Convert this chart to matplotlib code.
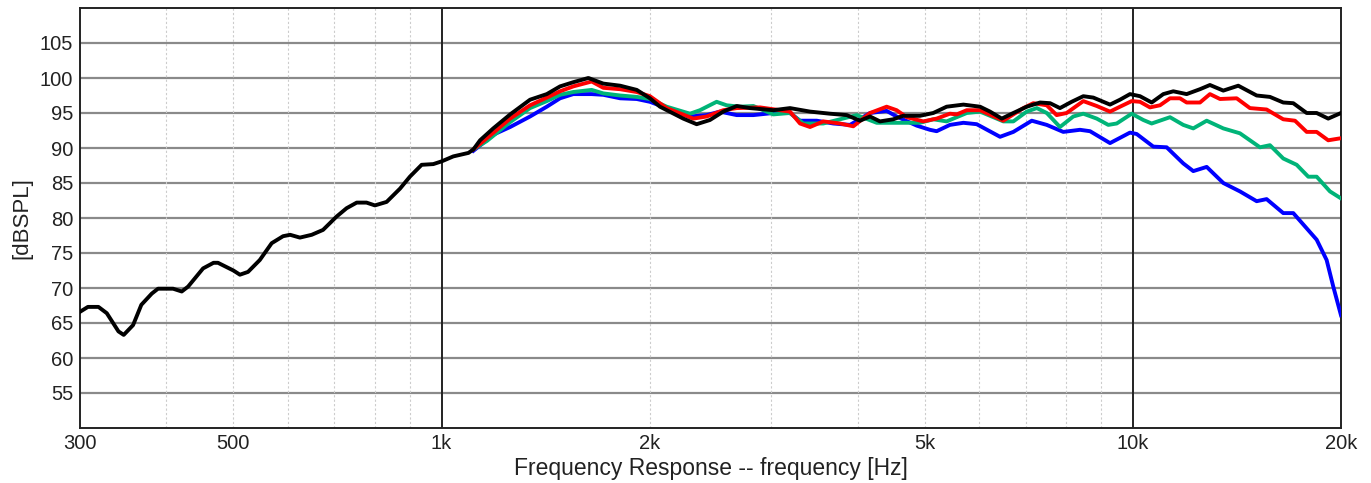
import numpy as np
import matplotlib
matplotlib.use("Agg")
import matplotlib.pyplot as plt
import matplotlib.ticker as plticker

plt.rcParams['font.family'] = ['Liberation Sans', 'DejaVu Sans']

# black curve (full range)
black_f = [300, 308, 319, 328, 341, 347, 358, 368, 381, 389, 409, 421, 430, 452, 468, 475,
           500, 511, 525, 546, 568, 590, 604, 624, 649, 674, 705, 729, 754, 779, 801, 833,
           871, 900, 936, 973, 1001, 1040, 1094, 1112, 1137, 1188, 1257, 1343, 1420, 1484,
           1551, 1631, 1714, 1813, 1916, 2002, 2070, 2237, 2339, 2445, 2556, 2673, 2794,
           3019, 3192, 3412, 3646, 3856, 4030, 4167, 4307, 4502, 4654, 4921, 5144, 5378,
           5687, 6011, 6214, 6462, 6716, 7022, 7341, 7590, 7844, 8155, 8478, 8766, 9267,
           9581, 9904, 10240, 10646, 11066, 11441, 11961, 12504, 12926, 13514, 14205,
           15102, 15785, 16501, 17061, 17840, 18443, 19167, 20000]
black_db = [66.6, 67.3, 67.3, 66.4, 63.8, 63.3, 64.7, 67.6, 69.2, 69.9, 69.9, 69.5, 70.2, 72.8, 73.6, 73.6,
            72.5, 71.9, 72.3, 74.0, 76.4, 77.4, 77.6, 77.2, 77.6, 78.3, 80.2, 81.4, 82.2, 82.2, 81.8, 82.3,
            84.2, 85.9, 87.6, 87.7, 88.1, 88.8, 89.3, 89.8, 91.1, 92.8, 94.8, 96.9, 97.7, 98.8,
            99.4, 100.0, 99.2, 98.9, 98.3, 97.1, 95.9, 94.2, 93.4, 94.0, 95.2, 96.0, 95.7,
            95.4, 95.7, 95.2, 94.9, 94.7, 93.9, 94.5, 93.8, 94.1, 94.6, 94.6, 95.0, 95.9,
            96.2, 95.9, 95.2, 94.2, 95.0, 95.9, 96.5, 96.4, 95.7, 96.6, 97.4, 97.2, 96.2,
            96.9, 97.7, 97.4, 96.5, 97.7, 98.1, 97.7, 98.4, 99.0, 98.2, 98.9,
            97.5, 97.3, 96.5, 96.4, 95.0, 95.0, 94.2, 95.0]

red_f = [1112, 1163, 1257, 1343, 1420, 1484, 1551, 1649, 1714, 1813, 1916, 2002, 2117, 2313,
         2418, 2556, 2673, 2889, 3087, 3192, 3300, 3412, 3566, 3770, 3941, 4167, 4404, 4553,
         4708, 4976, 5202, 5437, 5563, 5751, 6011, 6496, 6943, 7178, 7507, 7758, 8021, 8478,
         8866, 9267, 9581, 9961, 10240, 10585, 10944, 11316, 11697, 11961, 12504, 12926,
         13366, 14130, 14768, 15611, 16501, 17159, 17840, 18443, 19167, 20000]
red_db = [89.8, 91.4, 94.2, 96.1, 97.2, 98.1, 98.8, 99.5, 98.6, 98.4, 98.0, 97.4, 95.7, 94.2,
          94.5, 95.4, 95.7, 95.8, 95.4, 95.2, 93.5, 93.0, 93.8, 93.5, 93.1, 95.0, 95.9, 95.4,
          94.4, 93.8, 94.2, 94.9, 94.8, 95.4, 95.4, 93.9, 95.7, 96.4, 96.1, 94.7, 95.0, 96.7,
          96.0, 95.2, 95.9, 96.7, 96.6, 95.8, 96.1, 97.1, 97.1, 96.5, 96.5, 97.7,
          97.0, 97.1, 95.7, 95.5, 94.1, 93.9, 92.3, 92.3, 91.1, 91.4]

green_f = [1112, 1163, 1257, 1343, 1420, 1484, 1551, 1649, 1714, 1813, 1916, 2002, 2117, 2288,
           2365, 2500, 2585, 2702, 2825, 3019, 3192, 3337, 3566, 3770, 3986, 4261, 4603, 4921,
           5144, 5378, 5751, 6011, 6496, 6716, 7022, 7262, 7507, 7844, 8199, 8478, 8866, 9213,
           9476, 9961, 10354, 10646, 11316, 11827, 12228, 12787, 13514, 14284, 15270, 15785,
           16501, 17255, 17935, 18443, 19277, 20000]
green_db = [89.8, 91.0, 93.7, 95.7, 96.7, 97.6, 98.0, 98.3, 97.8, 97.5, 97.3, 97.0, 95.9, 94.9,
            95.4, 96.6, 96.1, 95.9, 96.0, 94.8, 95.0, 93.5, 93.5, 94.1, 94.7, 93.6, 93.6, 93.6,
            94.1, 93.8, 95.0, 95.2, 93.8, 93.8, 95.2, 95.7, 95.0, 93.0, 94.5, 94.9, 94.2, 93.3,
            93.5, 94.9, 94.0, 93.5, 94.4, 93.3, 92.8, 93.9, 92.8, 92.1, 90.1, 90.4,
            88.5, 87.6, 85.9, 85.9, 83.8, 82.8]

blue_f = [1112, 1188, 1257, 1343, 1420, 1484, 1551, 1649, 1714, 1813, 1916, 2002, 2117, 2288,
          2418, 2528, 2673, 2825, 3019, 3192, 3300, 3489, 3687, 3898, 4167, 4404, 4553, 4867,
          5087, 5202, 5437, 5687, 5945, 6425, 6716, 7141, 7507, 7931, 8384, 8670, 9267, 9904,
          10128, 10703, 11191, 11827, 12228, 12787, 13514, 14284, 15102, 15611, 16501, 17061,
          18443, 19065, 19492, 20000]
blue_db = [89.6, 91.9, 93.0, 94.5, 95.9, 97.1, 97.7, 97.7, 97.6, 97.1, 97.0, 96.6, 95.7, 94.5,
           94.7, 95.2, 94.7, 94.7, 95.0, 95.0, 93.9, 93.9, 93.5, 93.3, 95.0, 95.3, 94.5, 93.2,
           92.6, 92.4, 93.3, 93.6, 93.4, 91.6, 92.3, 93.9, 93.3, 92.3, 92.6, 92.4, 90.7, 92.2,
           92.0, 90.2, 90.1, 87.8, 86.7, 87.3, 85.0, 83.8, 82.4, 82.7, 80.7, 80.7,
           76.9, 74.0, 70.2, 66.1]

x_ticks = [300, 500, 1000, 2000, 5000, 10000, 20000]
x_labels = ['300', '500', '1k', '2k', '5k', '10k', '20k']
y_ticks = [55, 60, 65, 70, 75, 80, 85, 90, 95, 100, 105]

W, H = 1371, 483
fig = plt.figure(figsize=(W / 100, H / 100), dpi=100)
ax = fig.add_axes([80 / W, (H - 428) / H, 1261 / W, 420 / H])

ax.set_xscale('log')
ax.set_xlim(300, 20000)
ax.set_ylim(50, 110)

# grid: gray horizontal lines, dotted minor verticals, dark decade lines
for y in y_ticks:
    ax.axhline(y, color='#8a8a8a', lw=1.6, zorder=1)
minor = [400, 500, 600, 700, 800, 900, 2000, 3000, 4000, 5000, 6000, 7000, 8000, 9000]
for xv in minor:
    ax.axvline(xv, color='#cccccc', lw=0.8, ls=(0, (2, 2)), zorder=1)
for xv in [1000, 10000]:
    ax.axvline(xv, color='#222222', lw=1.4, zorder=1)

lw = 2.8
ax.plot(blue_f, blue_db, color='#0000ff', lw=lw, zorder=3)
ax.plot(green_f, green_db, color='#00b478', lw=lw, zorder=4)
ax.plot(red_f, red_db, color='#ff0000', lw=lw, zorder=5)
ax.plot(black_f, black_db, color='#000000', lw=lw, zorder=6)

ax.xaxis.set_major_locator(plticker.FixedLocator(x_ticks))
ax.xaxis.set_minor_locator(plticker.NullLocator())
ax.set_xticklabels(x_labels)
ax.set_yticks(y_ticks)
ax.tick_params(axis='both', length=0, labelsize=14.5, colors='#222222')
ax.tick_params(axis='x', pad=4)
ax.tick_params(axis='y', pad=5)

for s in ax.spines.values():
    s.set_color('#222222')
    s.set_linewidth(1.4)

ax.set_xlabel('Frequency Response -- frequency [Hz]', fontsize=16.5, color='#222222', labelpad=3)
ax.set_ylabel('[dBSPL]', fontsize=16, color='#222222', labelpad=5)

fig.savefig('out.png', dpi=100)
